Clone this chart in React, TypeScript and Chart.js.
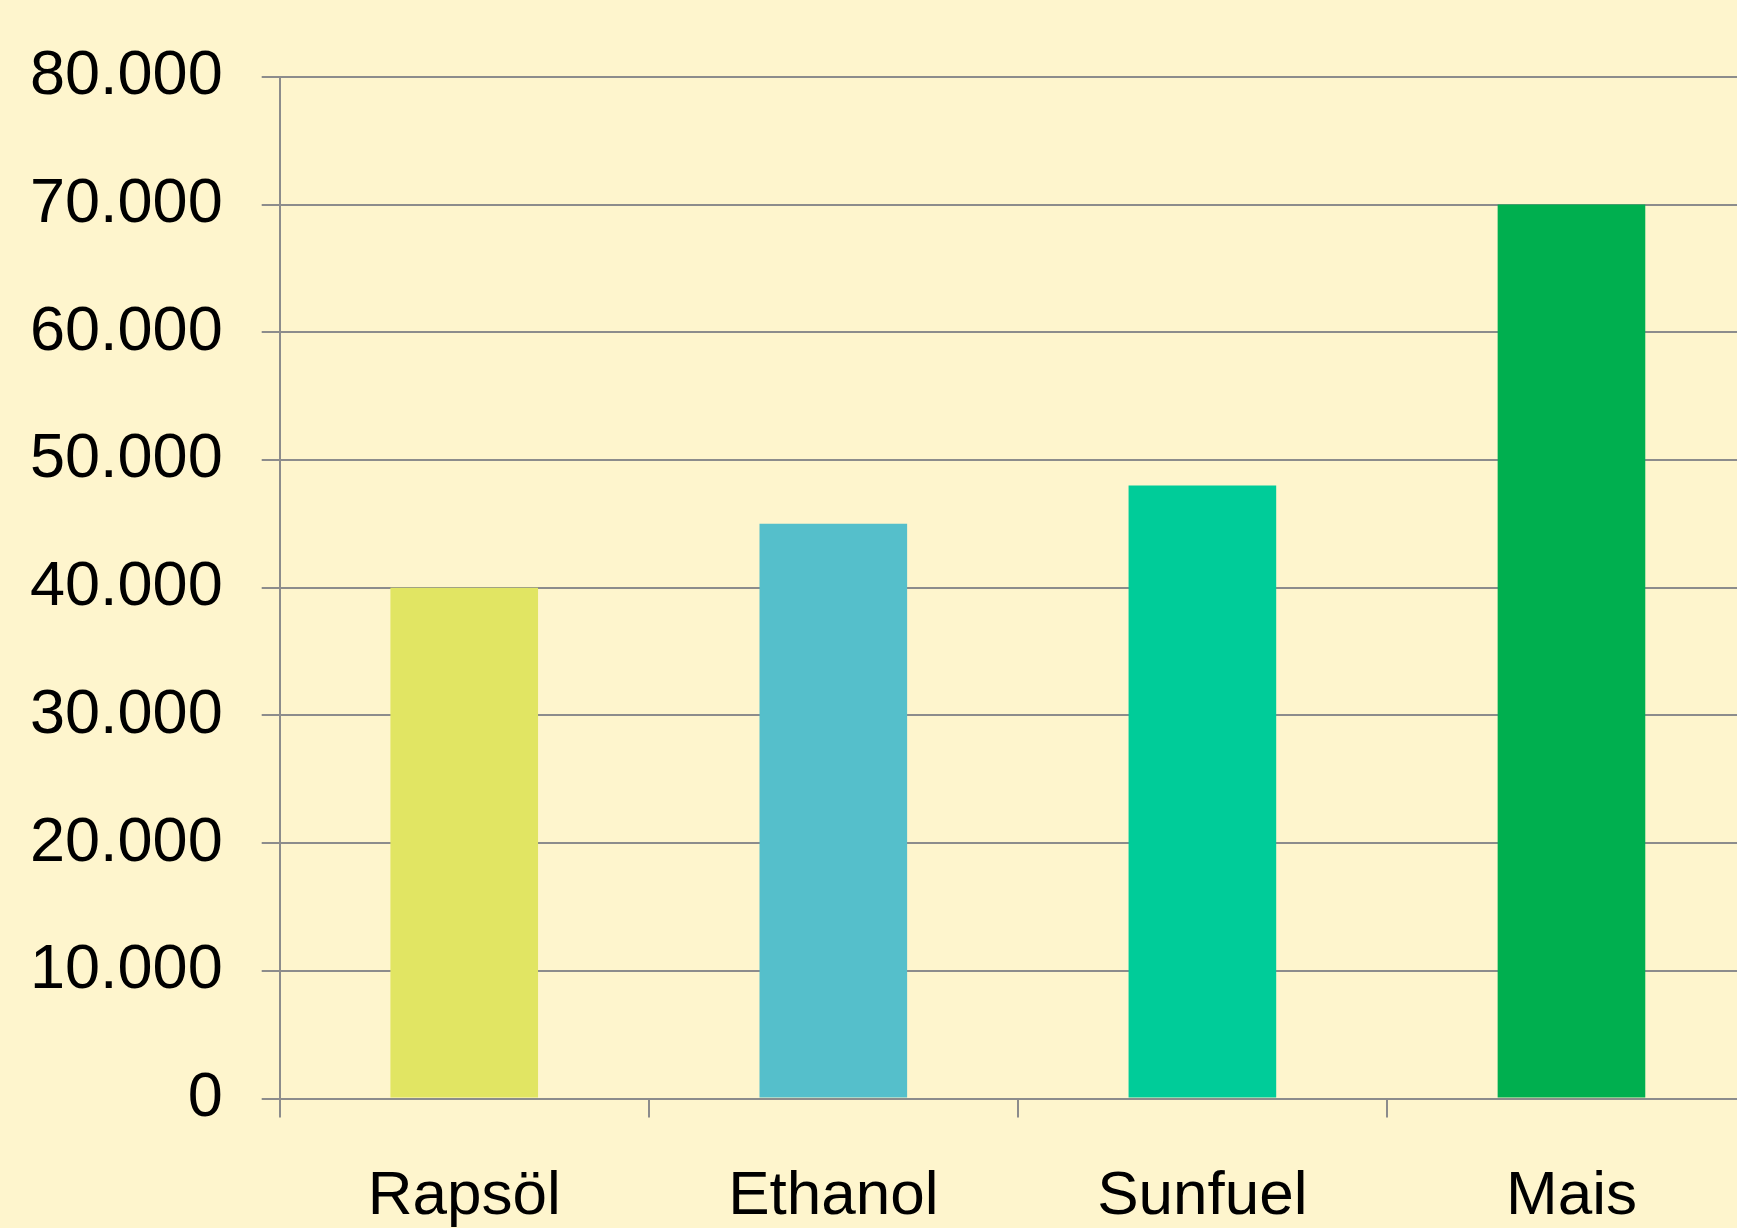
import React, { useEffect, useRef } from "react";
import { Chart, registerables } from "chart.js";

Chart.register(...registerables);

const categories: string[] = ["Rapsöl", "Ethanol", "Sunfuel", "Mais"];
const values: number[] = [40000, 45000, 48000, 70000];
const barColors: string[] = ["#E1E563", "#55BFCB", "#00CC99", "#00AF4F"];
const yTicks: number[] = [0, 10000, 20000, 30000, 40000, 50000, 60000, 70000, 80000];

const fmt = (v: number) => {
  const s = Math.round(v).toString();
  return s.replace(/\B(?=(\d{3})+(?!\d))/g, ".");
};

export default function App() {
  const ref = useRef<HTMLCanvasElement | null>(null);

  useEffect(() => {
    if (!ref.current) return;
    const chart = new Chart(ref.current, {
      type: "bar",
      data: {
        labels: categories,
        datasets: [
          {
            data: values,
            backgroundColor: barColors,
            borderWidth: 0,
            categoryPercentage: 1,
            barPercentage: 0.4,
          },
        ],
      },
      options: {
        animation: false,
        responsive: false,
        maintainAspectRatio: false,
        layout: { padding: { left: 0, right: 5, top: 40, bottom: 0 } },
        plugins: { legend: { display: false }, tooltip: { enabled: false }, title: { display: false } },
        scales: {
          x: {
            offset: true,
            grid: {
              offset: true,
              drawOnChartArea: false,
              drawTicks: true,
              tickLength: 19,
              color: "#8C8C8C",
              lineWidth: 2,
            },
            border: { display: true, color: "#8C8C8C", width: 2 },
            ticks: {
              color: "#000000",
              padding: 42,
              font: { family: "'Liberation Sans', Arial, sans-serif", size: 62 },
              maxRotation: 0,
            },
          },
          y: {
            min: 0,
            max: 80000,
            afterBuildTicks: (axis: any) => {
              axis.ticks = yTicks.map((v) => ({ value: v }));
            },
            grid: {
              drawOnChartArea: true,
              drawTicks: true,
              tickLength: 18,
              color: "#8C8C8C",
              lineWidth: 2,
            },
            border: { display: true, color: "#8C8C8C", width: 2 },
            ticks: {
              color: "#000000",
              padding: 39,
              font: { family: "'Liberation Sans', Arial, sans-serif", size: 63 },
              callback: (v: any) => fmt(Number(v)),
            },
          },
        },
      },
    });
    return () => chart.destroy();
  }, []);

  return (
    <div
      style={{
        position: "fixed",
        left: 0,
        top: 0,
        width: "100vw",
        height: "100vh",
        overflow: "hidden",
        background: "#FEF5CD",
      }}
    >
      <canvas
        ref={ref}
        width={1770}
        height={1276}
        style={{ display: "block", position: "absolute", left: -9, top: 0, width: 1770, height: 1276 }}
      />
    </div>
  );
}
